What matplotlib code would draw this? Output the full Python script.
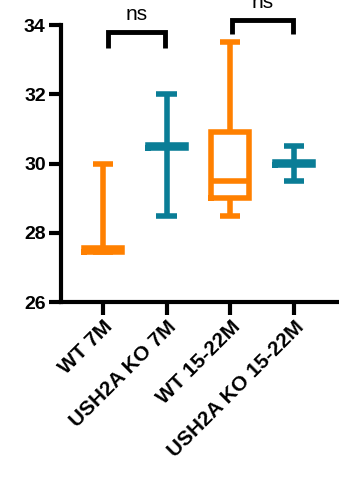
import matplotlib
matplotlib.use("Agg")
import matplotlib.pyplot as plt

groups = ["WT 7M", "USH2A KO 7M", "WT 15-22M", "USH2A KO 15-22M"]
mins = [27.45, 28.5, 28.5, 29.5]
q1s = [27.45, 30.45, 29.0, 29.95]
meds = [27.5, 30.5, 29.5, 30.0]
q3s = [27.55, 30.55, 30.9, 30.05]
maxs = [30.0, 32.0, 33.5, 30.5]
colors = ["#FF8000", "#0A7D96", "#FF8000", "#0A7D96"]

# significance brackets: (x start, x end, top y, leg bottom y, label)
brackets = [(1.08, 1.98, 33.8, 33.35, "ns"), (3.03, 3.99, 34.15, 33.75, "ns")]

plt.rcParams['font.family'] = ['Liberation Sans', 'DejaVu Sans']

fig = plt.figure(figsize=(3.39, 5.01), dpi=100)
ax = fig.add_axes([0.18, 0.397, 0.82, 0.553])

lw = 4
for i in range(len(groups)):
    st = [{"whislo": mins[i], "q1": q1s[i], "med": meds[i], "q3": q3s[i],
           "whishi": maxs[i], "fliers": []}]
    c = colors[i]
    ax.bxp(st, positions=[i + 1], widths=0.6, capwidths=0.32, showfliers=False,
           boxprops=dict(color=c, linewidth=lw, solid_joinstyle='miter'),
           medianprops=dict(color=c, linewidth=lw, solid_capstyle='butt'),
           whiskerprops=dict(color=c, linewidth=lw, solid_capstyle='butt'),
           capprops=dict(color=c, linewidth=lw, solid_capstyle='butt'))

for x0, x1, yt, yb, lab in brackets:
    ax.plot([x0, x0, x1, x1], [yb, yt, yt, yb], color="black", lw=3.5,
            clip_on=False, solid_joinstyle='miter', solid_capstyle='butt')
    ax.text((x0 + x1) / 2, yt + 0.22, lab, ha="center", va="bottom",
            fontsize=15, clip_on=False)

ax.set_xlim(0.34, 4.71)
ax.set_ylim(26, 34)
ax.set_yticks([26, 28, 30, 32, 34])
ax.set_xticks([1, 2, 3, 4])
ax.set_xticklabels(groups, rotation=45, ha="right", rotation_mode="anchor",
                   fontweight="bold", fontsize=15)
for t in ax.get_yticklabels():
    t.set_fontweight("bold")
    t.set_fontsize(14)
ax.tick_params(axis="both", width=3, length=9, direction="out", pad=2)

for s in ["top", "right"]:
    ax.spines[s].set_visible(False)
for s in ["left", "bottom"]:
    ax.spines[s].set_linewidth(3)

fig.savefig("out.png", dpi=100)
